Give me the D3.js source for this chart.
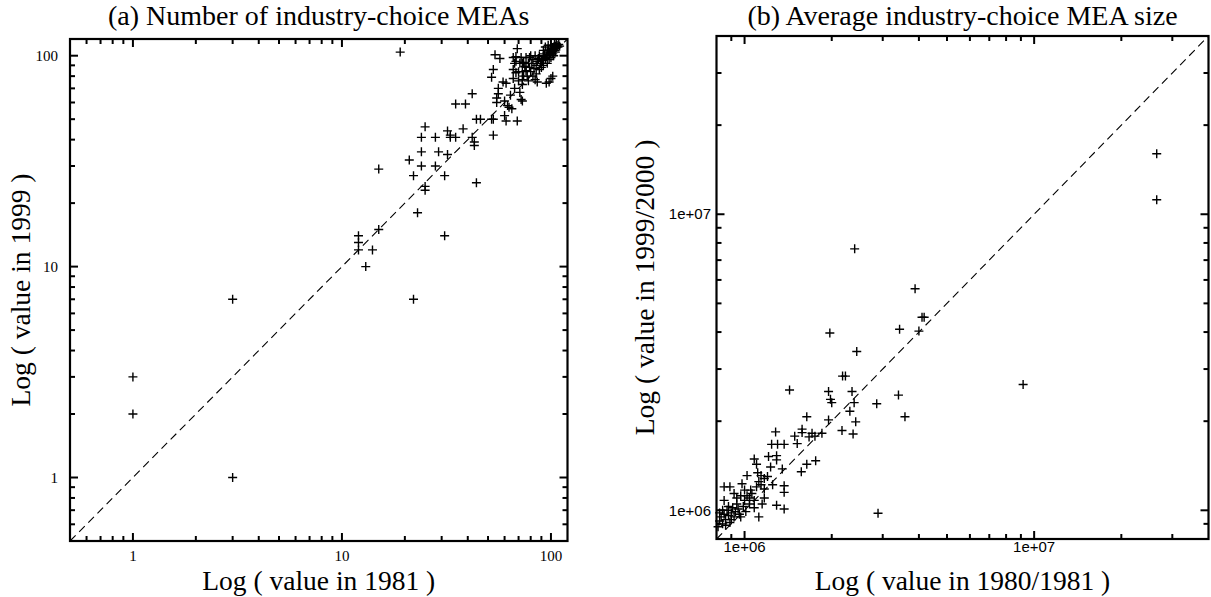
<!DOCTYPE html>
<html>
<head>
<meta charset="utf-8">
<script src="https://cdn.jsdelivr.net/npm/d3@7"></script>
<style>
  body { margin: 0; background: #fff; }
  svg { display: block; }
</style>
</head>
<body>
<script>
// (a) number of industry-choice MEAs, 1981 vs 1999
var aTitle = "(a) Number of industry-choice MEAs";
var aXTitle = "Log ( value in 1981 )";
var aYTitle = "Log ( value in 1999 )";
var aDomain = [0.5, 120];
var aTickValues = [1, 10, 100];
var aTickLabels = ["1", "10", "100"];
var a1981 = [1,1,3,3,22,31,13,14,12,12,12,15,15,23,19,44,21,22,24,24,24,25,25,25,28,28,29,31,32,32,33,33,35,38,35,39,42,42,43,43,44,46,
  52,53,54,57,52,53,53,55,55,56,56,59,60,62,60,61,63,65,61,64,67,69,68,68,68,69,70,71,73,72,73,74,75,76,77,78,
  66,72,76,79,67,71,73,66,73,66,73,79,81,82,84,86,80,83,85,86,87,88,89,90,91,92,93,94,95,98,100,102,95,96,97,98,
  99,100,101,102,103,104,105,106,107,108,109,110,104,106,100,102,98,96,92,88,85,82,90,84,80,78,76,74,70,100,103,105,92,94,97];
var a1999 = [3,2,1,7,7,14,10,12,14,13,12,15,29,18,104,25,32,27,35,30,41,46,24,23,41,30,35,27,34,44,42,41,41,45,59,59,66,41,39,37.5,50,50,
  79,86,101,97,50,50,42,63,60,70,66,75,61,58,52,49,57,56,74,65,70,49,99,94,83,108,76,67,73,62,61,93,89,85,80,76,
  98,98,98,98,92,92,92,86,84,78,77,88,92,96,77,75,84,87,90,94,97,100,92,88,95,99,102,97,74,75,78,80,100,104,106,101,
  103,107,105,108,110,106,111,109,112,110,113,111,113,114,112,102,96,92,90,86,82,80,96,100,100,92,88,80,84,98,100,104,106,110,112];

// (b) average industry-choice MEA size, 1980/81 vs 1999/2000
var bTitle = "(b) Average industry-choice MEA size";
var bXTitle = "Log ( value in 1980/1981 )";
var bYTitle = "Log ( value in 1999/2000 )";
var bDomain = [8e5, 4e7];
var bTickValues = [1e6, 1e7];
var bTickLabels = ["1e+06", "1e+07"];
var b1980 = [26.5e6,26.5e6,9.16e6,2.89e6,2.40e6,3.88e6,4.10e6,4.17e6,3.43e6,4.00e6,1.97e6,2.44e6,2.18e6,2.23e6,1.43e6,1.95e6,2.35e6,1.98e6,2.00e6,2.39e6,
  2.86e6,3.40e6,3.58e6,2.31e6,2.42e6,1.95e6,1.64e6,2.17e6,2.37e6,1.85e6,1.71e6,1.75e6,1.58e6,1.58e6,1.67e6,1.49e6,1.52e6,1.28e6,1.24e6,1.30e6,
  1.37e6,1.76e6,1.64e6,1.57e6,1.08e6,1.21e6,1.29e6,1.29e6,1.35e6,1.10e6,1.02e6,1.11e6,1.14e6,1.17e6,1.14e6,1.25e6,1.37e6,1.37e6,1.29e6,1.37e6,
  1.12e6,1.17e6,1.17e6,1.08e6,1.08e6,0.98e6,1.00e6,0.85e6,0.89e6,0.92e6,0.94e6,0.85e6,0.97e6,1.04e6,1.04e6,1.05e6,
  0.81e6,0.82e6,0.83e6,0.84e6,0.85e6,0.86e6,0.87e6,0.88e6,0.89e6,0.90e6,0.91e6,0.92e6,0.93e6,0.95e6,0.96e6,0.82e6,
  0.84e6,0.86e6,0.88e6,0.90e6,0.99e6,1.00e6,1.02e6,1.06e6,1.10e6,1.12e6,0.94e6,0.97e6,1.01e6,1.15e6,1.20e6,1.23e6];
var b1999 = [16.0e6,11.2e6,2.66e6,0.977e6,7.64e6,5.60e6,4.49e6,4.49e6,4.09e6,4.03e6,3.97e6,3.44e6,2.84e6,2.84e6,2.55e6,2.52e6,2.52e6,2.37e6,2.31e6,2.31e6,
  2.29e6,2.45e6,2.07e6,2.16e6,1.99e6,2.02e6,2.07e6,1.86e6,1.81e6,1.82e6,1.82e6,1.78e6,1.88e6,1.83e6,1.77e6,1.78e6,1.68e6,1.84e6,1.67e6,1.67e6,
  1.67e6,1.47e6,1.43e6,1.35e6,1.49e6,1.52e6,1.53e6,1.48e6,1.38e6,1.43e6,1.31e6,1.34e6,1.31e6,1.28e6,1.22e6,1.22e6,1.21e6,1.15e6,1.04e6,1.01e6,
  0.95e6,1.18e6,1.10e6,1.08e6,1.02e6,1.23e6,1.17e6,1.20e6,1.20e6,1.14e6,1.05e6,1.08e6,0.95e6,1.05e6,1.10e6,1.17e6,
  0.88e6,0.92e6,0.95e6,0.90e6,0.97e6,0.93e6,1.00e6,0.96e6,0.91e6,0.98e6,1.02e6,0.95e6,0.99e6,1.01e6,0.97e6,0.98e6,
  1.00e6,0.89e6,1.03e6,0.93e6,1.03e6,1.08e6,1.12e6,1.14e6,1.20e6,1.25e6,1.10e6,1.12e6,0.99e6,1.05e6,1.30e6,1.40e6];

var svg = d3.select("body").append("svg")
  .attr("width", 1211)
  .attr("height", 597);

var serif = "'Liberation Serif', 'Times New Roman', serif";
var sans = "'Liberation Sans', Arial, sans-serif";

function drawPanel(p) {
  var x = d3.scaleLog().domain(p.domain).range([p.left, p.right]);
  var y = d3.scaleLog().domain(p.domain).range([p.bottom, p.top]);
  var g = svg.append("g");

  // diagonal y = x
  g.append("line")
    .attr("x1", x(p.domain[0])).attr("y1", y(p.domain[0]))
    .attr("x2", x(p.domain[1])).attr("y2", y(p.domain[1]))
    .attr("stroke", "#000").attr("stroke-width", 1.1)
    .attr("stroke-dasharray", "8,5");

  // points as plus signs
  var pts = p.xs.map(function(v, i) { return [v, p.ys[i]]; });
  g.selectAll("path.pt")
    .data(pts)
    .enter().append("path")
      .attr("class", "pt")
      .attr("d", "M-4.5,0H4.5M0,-4.5V4.5")
      .attr("transform", function(d) { return "translate(" + x(d[0]) + "," + y(d[1]) + ")"; })
      .attr("stroke", "#000").attr("stroke-width", 1.4).attr("fill", "none");

  // ticks on all four sides, pointing in
  var tks = x.ticks(20).filter(function(t) { return t > p.domain[0] && t < p.domain[1]; });
  var isMajor = function(t) { return Math.abs(Math.log10(t) - Math.round(Math.log10(t))) < 1e-9; };
  var len = function(t) { return isMajor(t) ? 8 : 5; };
  var tg = g.append("g").attr("stroke", "#000").attr("stroke-width", 2);
  tks.forEach(function(t) {
    tg.append("line").attr("x1", x(t)).attr("x2", x(t)).attr("y1", p.bottom).attr("y2", p.bottom - len(t));
    tg.append("line").attr("x1", x(t)).attr("x2", x(t)).attr("y1", p.top).attr("y2", p.top + len(t));
    tg.append("line").attr("y1", y(t)).attr("y2", y(t)).attr("x1", p.left).attr("x2", p.left + len(t));
    tg.append("line").attr("y1", y(t)).attr("y2", y(t)).attr("x1", p.right).attr("x2", p.right - len(t));
  });

  // frame
  g.append("rect")
    .attr("x", p.left).attr("y", p.top)
    .attr("width", p.right - p.left).attr("height", p.bottom - p.top)
    .attr("fill", "none").attr("stroke", "#000").attr("stroke-width", 2.2);

  // tick labels
  p.tickValues.forEach(function(t, i) {
    g.append("text")
      .attr("x", x(t)).attr("y", p.xLabelY)
      .attr("text-anchor", "middle")
      .attr("font-family", p.tickFont).attr("font-size", p.tickSize)
      .text(p.tickLabels[i]);
    g.append("text")
      .attr("x", p.yLabelX).attr("y", y(t)).attr("dy", "0.35em")
      .attr("text-anchor", "end")
      .attr("font-family", p.tickFont).attr("font-size", p.tickSize)
      .text(p.tickLabels[i]);
  });

  var cx = (p.left + p.right) / 2, cy = (p.top + p.bottom) / 2;
  g.append("text")
    .attr("x", cx).attr("y", 25)
    .attr("text-anchor", "middle")
    .attr("font-family", serif).attr("font-size", 28)
    .text(p.title);
  g.append("text")
    .attr("x", cx).attr("y", 590)
    .attr("text-anchor", "middle")
    .attr("font-family", serif).attr("font-size", 27.5)
    .text(p.xTitle);
  g.append("text")
    .attr("transform", "translate(" + p.yTitleX + "," + cy + ") rotate(-90)")
    .attr("text-anchor", "middle")
    .attr("font-family", serif).attr("font-size", 27.5)
    .text(p.yTitle);
}

drawPanel({
  left: 70, right: 567.5, top: 39, bottom: 541,
  domain: aDomain, xs: a1981, ys: a1999,
  tickValues: aTickValues, tickLabels: aTickLabels,
  tickFont: serif, tickSize: 15, xLabelY: 561, yLabelX: 58,
  title: aTitle, xTitle: aXTitle, yTitle: aYTitle, yTitleX: 30
});

drawPanel({
  left: 716.5, right: 1208.5, top: 36, bottom: 539,
  domain: bDomain, xs: b1980, ys: b1999,
  tickValues: bTickValues, tickLabels: bTickLabels,
  tickFont: sans, tickSize: 15, xLabelY: 552, yLabelX: 711,
  title: bTitle, xTitle: bXTitle, yTitle: bYTitle, yTitleX: 654
});
</script>
</body>
</html>
